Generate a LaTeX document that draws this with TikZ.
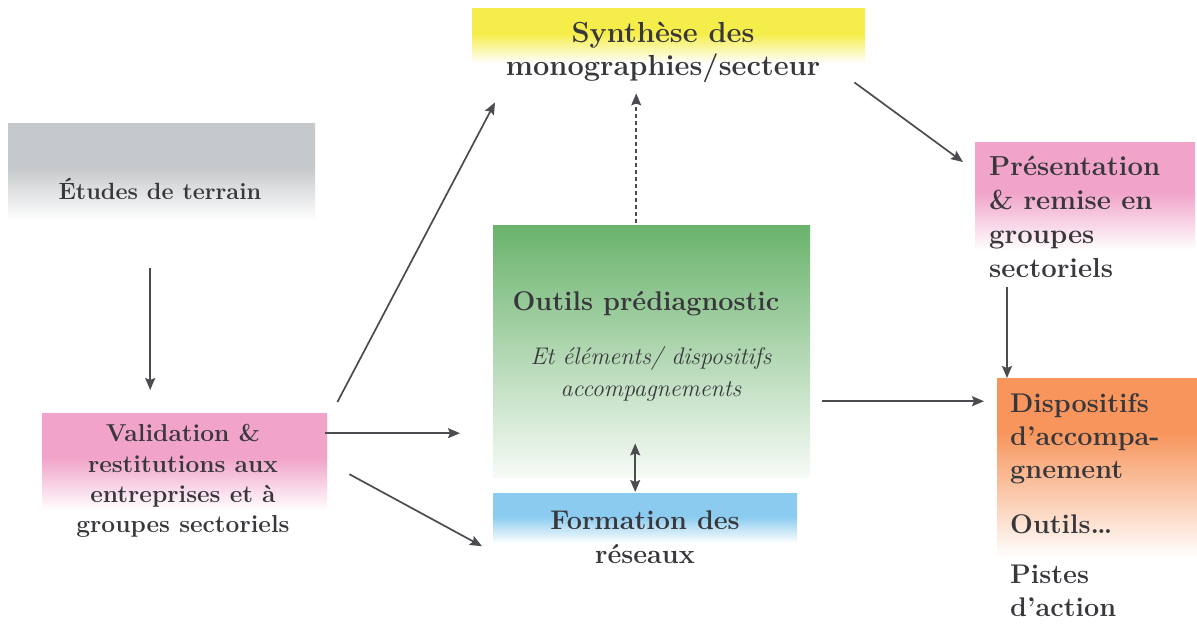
\documentclass[tikz,border=0pt]{standalone}
\usetikzlibrary{arrows.meta}
\definecolor{encre}{HTML}{38373C}
\definecolor{gris}{HTML}{C6C9CB}
\definecolor{rose}{HTML}{F1A3C9}
\definecolor{jaune}{HTML}{F5EE4A}
\definecolor{vert}{HTML}{6AB36C}
\definecolor{bleu}{HTML}{8ACBEF}
\definecolor{orange}{HTML}{F7955C}
\colorlet{fadecol}{white}
\pgfdeclareverticalshading[fadecol]{fondu}{100bp}{color(0bp)=(white); color(25bp)=(white); color(52bp)=(fadecol); color(100bp)=(fadecol)}
\pgfdeclareverticalshading[fadecol]{fondulong}{100bp}{color(0bp)=(white); color(25bp)=(white); color(60bp)=(fadecol); color(100bp)=(fadecol)}

\tikzset{
  boite/.style={/utils/exec={\colorlet{fadecol}{#1}}, shading=fondu, draw=none, inner sep=0pt, anchor=north west},
  texte/.style={text=encre, align=center, inner sep=0pt},
  pointe/.tip={Stealth[length=12pt,width=10pt,inset=2pt]},
  fleche/.style={draw=encre!90, line width=1.7pt, -pointe},
}

\begin{document}
\begin{tikzpicture}[x=1pt,y=-1pt]
\useasboundingbox (0,0) rectangle (1197,625);
% Boites
\node[boite=gris, minimum width=307, minimum height=97] (etu) at (8,123) {};
\node[boite=rose, minimum width=285, minimum height=97] (val) at (42,413) {};
\node[boite=jaune, minimum width=393, minimum height=55] (syn) at (472,8) {};
\node[draw=none, inner sep=0pt, anchor=north west, top color=vert, middle color=vert!60!white, bottom color=vert!6!white,
      minimum width=317, minimum height=252] (out) at (493,225) {};
\node[boite=bleu, minimum width=304, minimum height=50] (form) at (493,493) {};
\node[boite=rose, minimum width=220, minimum height=108] (pres) at (975,142) {};
\node[boite=orange, shading=fondulong, minimum width=200, minimum height=180] (disp) at (997,378) {};

% Textes
\node[texte, font=\bfseries\fontsize{23.5}{28}\selectfont] (etut) at (160,189) {Études de terrain};
\node[texte, font=\bfseries\fontsize{24.5}{30.3}\selectfont] (valt) at (183,481)
  {Validation \&\\ restitutions aux\\ entreprises et à\\ groupes sectoriels};
\node[texte, font=\bfseries\fontsize{29}{33}\selectfont] (synt) at (663,52) {Synthèse des\\ monographies/secteur};
\node[texte, font=\bfseries\fontsize{27}{32}\selectfont] (outt) at (646,303.5) {Outils prédiagnostic};
\node[texte, font=\itshape\fontsize{24}{32}\selectfont] (outi) at (651,374) {Et éléments/ dispositifs\\ accompagnements};
\node[texte, font=\bfseries\fontsize{27}{34}\selectfont] (formt) at (645,537) {Formation des\\ réseaux};
\node[texte, align=left, anchor=north west, font=\bfseries\fontsize{27.5}{34}\selectfont] (prest) at (989,156)
  {Présentation\\ \& remise en\\ groupes\\ sectoriels};
\node[texte, align=left, anchor=north west, font=\bfseries\fontsize{27}{33}\selectfont] (dispt) at (1010,393)
  {Dispositifs\\ d’accompa-\\ gnement\\[22pt] Outils\ldots\\[17pt] Pistes\\ d’action};

% Flèches
\draw[fleche, shorten >=23] ([shift={(-11.5,48)}]etu.south) -- ([xshift=-11.5pt]etu.south |- val.north);
\draw[fleche] ([shift={(10,-11)}]val.north east) -- ([shift={(23,39)}]syn.south west);
\draw[fleche, shorten >=33] ([shift={(-2,-28.5)}]val.east) -- ([yshift=28.5pt]val.east -| out.west);
\draw[fleche] ([shift={(22,12.5)}]val.east) -- ([shift={(-11,28)}]form.west);
\draw[fleche, dash pattern=on 4pt off 3pt, shorten >=30] ([shift={(-15.5,-2)}]out.north) -- ([xshift=-15.5pt]out.north |- syn.south);
\draw[fleche, pointe-pointe, shorten >=1] ([shift={(-16.5,-34)}]out.south) -- ([xshift=-16.5pt]out.south |- form.north);
\draw[fleche, shorten >=13] ([shift={(12,50)}]out.east) -- ([yshift=-50pt]out.east -| disp.west);
\draw[fleche] ([shift={(-11,19)}]syn.south east) -- ([shift={(-12,20)}]pres.north west);
\draw[fleche] ([shift={(32,37)}]pres.south west) -- ([xshift=32pt]pres.south west |- disp.north);
\end{tikzpicture}
\end{document}
